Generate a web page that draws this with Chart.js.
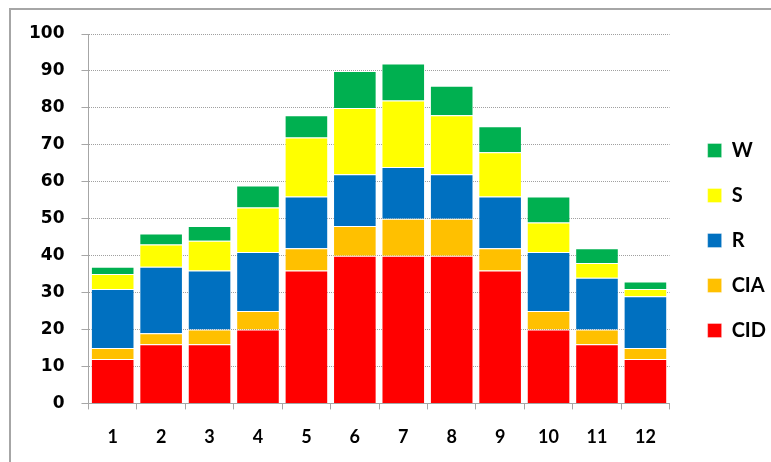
<!DOCTYPE html>
<html>
<head>
<meta charset="utf-8">
<script src="https://cdn.jsdelivr.net/npm/chart.js@4/dist/chart.umd.min.js"></script>
<style>
  html, body { margin: 0; padding: 0; background: #fff; }
  #wrap { position: relative; width: 771px; height: 462px; overflow: hidden; }
  #frame { position: absolute; left: 9px; top: 8px; width: 800px; height: 480px;
           border-left: 2px solid #a6a6a6; border-top: 2px solid #a6a6a6; }
  canvas { position: absolute; left: 0; top: 0; }
</style>
</head>
<body>
<div id="wrap">
  <div id="frame"></div>
  <canvas id="c" width="771" height="462"></canvas>
</div>
<script>
// Months
const categories = ['1','2','3','4','5','6','7','8','9','10','11','12'];

// Stacked components per month
const cid = [12, 16, 16, 20, 36, 40, 40, 40, 36, 20, 16, 12];
const cia = [ 3,  3,  4,  5,  6,  8, 10, 10,  6,  5,  4,  3];
const r   = [16, 18, 16, 16, 14, 14, 14, 12, 14, 16, 14, 14];
const s   = [ 4,  6,  8, 12, 16, 18, 18, 16, 12,  8,  4,  2];
const w   = [ 2,  3,  4,  6,  6, 10, 10,  8,  7,  7,  4,  2];

const yTicks = [0, 10, 20, 30, 40, 50, 60, 70, 80, 90, 100];

const series = [
  { label: 'CID', data: cid, color: '#ff0000' },
  { label: 'CIA', data: cia, color: '#ffc000' },
  { label: 'R',   data: r,   color: '#0070c0' },
  { label: 'S',   data: s,   color: '#ffff00' },
  { label: 'W',   data: w,   color: '#00b050' }
];

// Nudge the legend block a little right and up from its default slot
const legendNudge = {
  id: 'legendNudge',
  afterLayout(chart) {
    const lg = chart.legend;
    if (!lg) return;
    lg.left += 13; lg.right += 13;
    lg.top -= 9;   lg.bottom -= 9;
  }
};

new Chart(document.getElementById('c'), {
  type: 'bar',
  data: {
    labels: categories,
    datasets: series.map(d => ({
      label: d.label,
      data: d.data,
      backgroundColor: d.color,
      borderColor: 'rgba(255,255,255,0.35)',
      borderWidth: 1,
      barPercentage: 1,
      categoryPercentage: 0.9
    }))
  },
  plugins: [legendNudge],
  options: {
    responsive: false,
    animation: false,
    layout: { padding: { left: 12, top: 34, right: 8, bottom: -3 } },
    plugins: {
      tooltip: { enabled: false },
      legend: {
        position: 'right',
        reverse: true,
        labels: {
          boxWidth: 14,
          boxHeight: 14,
          padding: 25,
          color: '#000',
          font: { family: 'Lato', weight: 'bold', size: 20 }
        }
      }
    },
    scales: {
      x: {
        stacked: true,
        grid: { offset: true, drawOnChartArea: false, tickLength: 6, color: '#a6a6a6' },
        border: { color: '#a6a6a6', width: 1 },
        ticks: {
          color: '#000', padding: 17,
          font: { family: 'Lato', weight: 'bold', size: 18 }
        }
      },
      y: {
        stacked: true,
        min: 0,
        max: 100,
        afterBuildTicks: axis => { axis.ticks = yTicks.map(v => ({ value: v })); },
        grid: { color: '#a0a0a0', tickLength: 7, tickColor: '#a6a6a6' },
        border: { color: '#a6a6a6', width: 1, dash: [1, 1] },
        ticks: {
          color: '#000', padding: 17,
          font: { family: 'DejaVu Sans', weight: 'bold', size: 17 }
        }
      }
    }
  }
});
</script>
</body>
</html>
